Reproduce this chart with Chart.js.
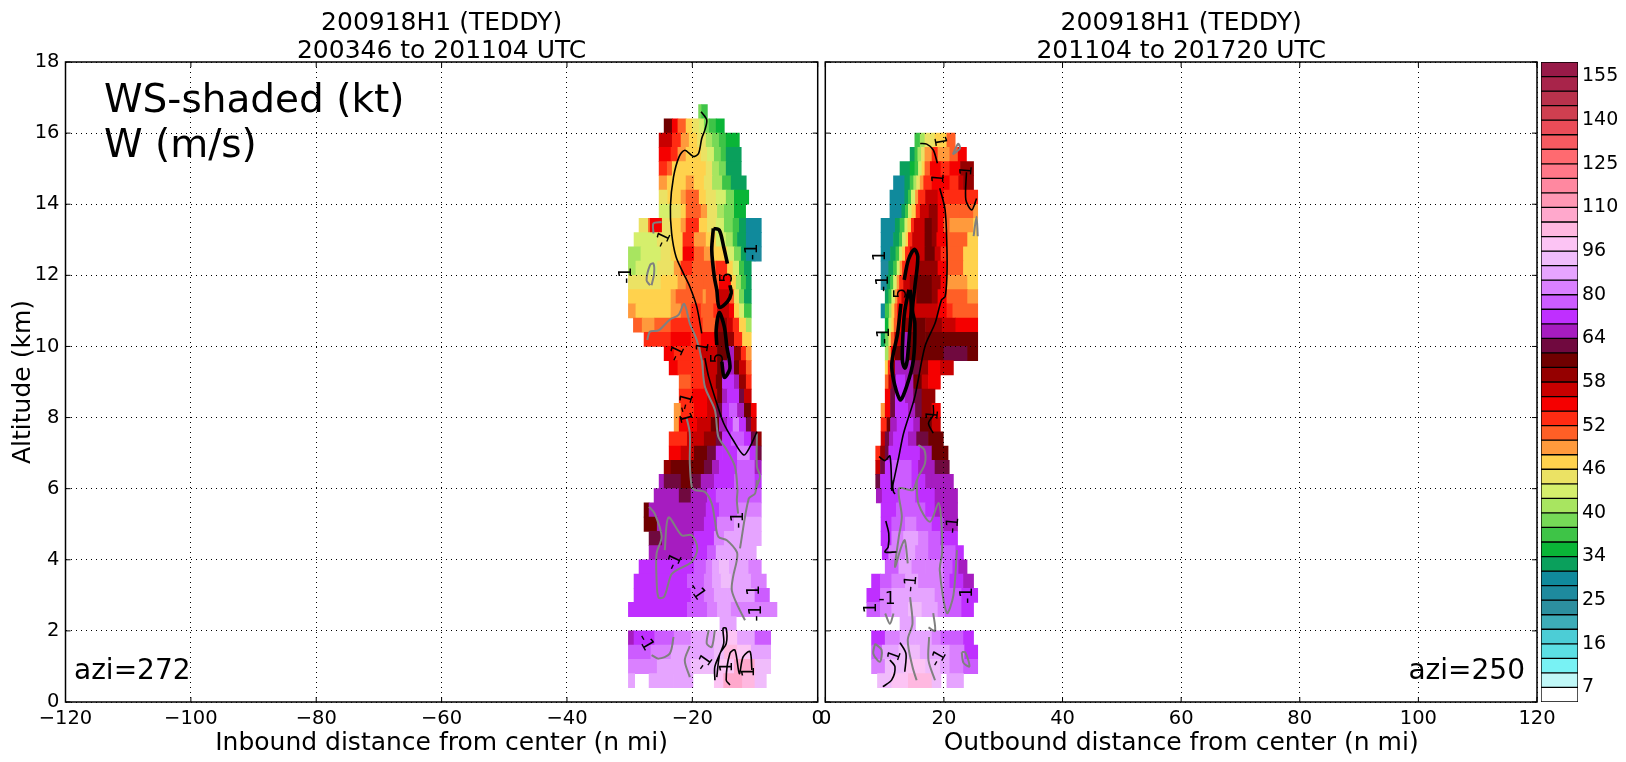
<!DOCTYPE html>
<html lang="en">

<head>
    <meta charset="UTF-8">
    <title>200918H1 (TEDDY)</title>
    <style>
        body {
            margin: 0;
            background: #fff;
        }

        canvas {
            position: absolute;
            top: 0;
        }
    </style>
</head>

<body>
    <canvas id="inbound" width="860" height="762" style="left:0"></canvas>
    <canvas id="outbound" width="846" height="762" style="left:780px"></canvas>
    <canvas id="colorbar" width="85" height="762" style="left:1541px"></canvas>

    <script src="https://cdn.jsdelivr.net/npm/chart.js"></script>
    <script>
        // colour bar
        const levels = [7, 10, 13, 16, 19, 22, 25, 28, 31, 34, 36, 38, 40, 42, 44, 46, 48, 50, 52, 54, 56, 58, 60, 62, 64, 69, 75, 80, 85, 91, 96, 101, 105, 110, 115, 120, 125, 130, 135, 140, 145, 150, 155];
        const levelColors = ['#ffffff', '#c0f8f8', '#78f2f4', '#5cdfe4', '#4ccdd6', '#3dacb8', '#2c8f9f', '#1e8a9e', '#108a9c', '#0aa05c', '#0ab537', '#3ec447', '#76d957', '#a8e560', '#d5ef6c', '#ebe264', '#ffd24d', '#ff9a3c', '#ff5f26', '#ff2b12', '#f50000', '#c80000', '#950000', '#700000', '#70093f', '#a61cc0', '#bf2fff', '#cc5cff', '#da80ff', '#e6a4ff', '#f0bcfb', '#fcc4f4', '#ffb8e0', '#ffa8cc', '#ff98b4', '#ff88a0', '#ff7888', '#ff6a70', '#f65a60', '#ea4c58', '#cf3f50', '#b9324c', '#a8244a', '#981a48'];
        const colorbarTicks = [1, 4, 7, 10, 13, 16, 19, 22, 25, 28, 31, 34, 37, 40, 43];
        const colorbarLabels = ['7', '16', '25', '34', '40', '46', '52', '58', '64', '80', '96', '110', '125', '140', '155'];

        // altitude of each shaded row (km)
        const rowAlt = [16.6, 16.2, 15.8, 15.4, 15.0, 14.6, 14.2, 13.8, 13.4, 13.0, 12.6, 12.2, 11.8, 11.4, 11.0, 10.6, 10.2, 9.8, 9.4, 9.0, 8.6, 8.2, 7.8, 7.4, 7.0, 6.6, 6.2, 5.8, 5.4, 5.0, 4.6, 4.2, 3.8, 3.4, 3.0, 2.6, 2.2, 1.8, 1.4, 1.0, 0.6];

        // wind speed along each row: distance, kt, distance, kt, ... distance
        const inboundWind = [
            [-19, 39, -18.5, 36, -17.6],
            [-24.5, 60, -23.2, 55, -22.3, 51, -21, 47, -20, 45, -18.9, 43, -18.1, 39, -17.3, 36, -16.2, 35, -14.9],
            [-25.3, 56, -23.2, 52, -21.8, 49, -20.5, 47, -19.2, 44, -17.8, 41, -16.8, 38, -15.7, 36, -14.6, 35, -12.5],
            [-25.3, 55, -23.4, 53, -22.3, 49, -21, 47, -18.6, 45, -17.6, 42, -16.5, 39, -15.4, 37, -14.6, 33, -12.2],
            [-25.3, 53, -24, 50, -23.2, 47, -17.8, 44, -16.8, 41, -15.7, 38, -14.6, 33, -12.2],
            [-25.3, 49, -24, 47, -21, 49, -19.7, 47, -18.1, 44, -16.8, 40, -15.2, 37, -13.8, 33, -11.4],
            [-25.3, 45, -23.9, 46, -21.8, 48, -21, 51, -18.9, 47, -17.8, 45, -16.2, 42, -14.6, 38, -13.3, 35, -11],
            [-25.3, 43, -23.4, 45, -21.8, 47, -21, 51, -18.6, 48, -17.6, 45, -16, 41, -14.9, 38, -13.3, 35, -11.5],
            [-28.5, 44, -27, 50, -26.7, 55, -24.8, 45, -23.4, 46, -21.8, 48, -21, 52, -18.9, 47, -17.6, 45, -16.2, 42, -14.9, 39, -13.5, 36, -12.5, 33, -11.4, 29, -9],
            [-29.3, 42, -25.6, 44, -23.4, 47, -21.5, 53, -19.7, 49, -17.8, 46, -16.2, 43, -14.6, 40, -13.5, 37, -12.8, 33, -11.4, 29, -9],
            [-30.2, 40, -28.2, 42, -25, 45, -23.4, 47, -21.5, 55, -19.7, 51, -18.1, 48, -16.8, 46, -14.4, 42, -13.3, 38, -12.2, 33, -11.4, 29, -10, 26, -9],
            [-30.2, 40, -29, 43, -25.6, 45, -22.9, 48, -21.8, 53, -20, 50, -16.2, 53, -14.4, 47, -13.5, 42, -12.5, 37, -11.7, 33, -10.6],
            [-30.2, 44, -25, 46, -22.3, 48, -21, 50, -18.1, 51, -15.7, 54, -13.8, 47, -13, 41, -12.2, 36, -11.4, 33, -10.6],
            [-30.2, 46, -23.4, 48, -22.6, 50, -20.2, 51, -18.3, 48, -17.8, 51, -16, 56, -14.1, 50, -13.3, 44, -12.5, 38, -11.7, 33, -10.6],
            [-30.2, 49, -29, 47, -23.4, 49, -21.8, 51, -20.2, 53, -18.6, 50, -16.6, 53, -16, 57, -14.1, 54, -13.3, 47, -12.5, 42, -11.7, 36, -10.6],
            [-29.4, 50, -28, 49, -26, 51, -23.4, 53, -20.2, 52, -18.3, 51, -16, 58, -14.4, 57, -13.5, 52, -12.5, 46, -11.4, 40, -10.6],
            [-27.7, 52, -23.4, 55, -20.2, 52, -18.6, 54, -16.2, 60, -14.4, 58, -13.3, 52, -12, 47, -10.6],
            [-24.5, 55, -22.9, 53, -18.6, 56, -16, 61, -14.4, 66, -13.3, 58, -12.2, 52, -11.4, 48, -10.6],
            [-23.7, 55, -22.3, 53, -18.1, 56, -16, 60, -15.2, 66, -13.3, 61, -12.5, 56, -11.4, 50, -10.6],
            [-22.1, 51, -20.2, 53, -18.1, 56, -16.2, 61, -15.2, 70, -13.3, 64, -12.5, 58, -11.4, 53, -10.6],
            [-22.1, 52, -20, 54, -17.6, 57, -16, 61, -15.2, 67, -14.4, 72, -12.5, 62, -11.7, 57, -10.6],
            [-22.9, 49, -21.8, 53, -19.7, 55, -17.6, 57, -16.2, 62, -15.2, 70, -14.1, 77, -12.8, 68, -11.7, 60, -10.6, 54, -9.8],
            [-22.9, 49, -22.1, 54, -19.2, 56, -17, 60, -15.7, 68, -14.4, 74, -13.5, 82, -12.5, 72, -11.4, 63, -10.6, 57, -9.8],
            [-23.7, 53, -20.8, 56, -18.1, 59, -16.2, 63, -15.2, 72, -13.8, 78, -11.7, 72, -10.6, 63, -9.8, 58, -9],
            [-23.7, 55, -21.8, 57, -19.7, 60, -17.6, 63, -16.2, 70, -15.2, 74, -12.8, 80, -10.8, 70, -9.8, 62, -9],
            [-24.5, 59, -23.4, 60, -21.3, 61, -18.1, 63, -16.8, 68, -15.7, 73, -12.8, 78, -10, 68, -9],
            [-25.3, 66, -24.5, 63, -21.8, 61, -20.2, 62, -18.6, 66, -16.5, 72, -13.3, 76, -10, 72, -9],
            [-26.1, 66, -22.1, 63, -20.2, 66, -17.6, 72, -16.2, 75, -13.3, 78, -9],
            [-27.7, 60, -26.9, 66, -17.8, 72, -15.7, 78, -12.8, 82, -9],
            [-27.7, 61, -25.6, 66, -18.1, 72, -16, 80, -13.3, 86, -9],
            [-26.9, 62, -24.8, 67, -19.7, 73, -16.5, 80, -14.9, 88, -9],
            [-26.9, 68, -20, 73, -17.6, 78, -16.2, 85, -14.1, 90, -9.8],
            [-28.5, 73, -19.7, 76, -17.8, 82, -16.8, 87, -15.7, 92, -14.1, 88, -11, 84, -9],
            [-29.3, 72, -20.8, 76, -18.1, 82, -16.8, 88, -15.4, 94, -13.8, 87, -10.6, 80, -8.2],
            [-29.3, 72, -20.2, 76, -18.1, 82, -16.5, 88, -14.4, 85, -10, 78, -7.7],
            [-30.2, 72, -20.8, 77, -17.6, 82, -16, 87, -13.8, 82, -6.5],
            [-15.6, 85, -13],
            [-30.2, 68, -29.3, 73, -26, 78, -22.9, 82, -20.2, 88, -16.5, 92, -14.9, 98, -12.8, 88, -10, 76, -7.5],
            [-30.2, 78, -26.6, 82, -23.4, 86, -20.2, 89, -16.5, 95, -14.9, 103, -12.8, 96, -10.6, 88, -7.5],
            [-30.2, 84, -25.6, 88, -20.2, 92, -16, 100, -13.3, 106, -10, 94, -7.5],
            [-30.2, 86, -29.2, null, -26.9, 88, -23, 90, -19.9, null, -16.5, 100, -15, 108, -12, 104, -10, 92, -8.2]
        ];

        const outboundWind = [
            [],
            [],
            [15.1, 37, 16, 41, 16.8, 44, 18.5, 47, 20.5, 51, 21.9],
            [14.3, 33, 15.1, 36, 15.6, 41, 16.2, 45, 16.8, 49, 18, 52, 19, 49, 21, 51, 22.4, 54, 23.8],
            [12.6, 31, 14.3, 34, 15.1, 37, 15.7, 42, 16.3, 47, 16.8, 50, 17.7, 54, 19.5, 52, 21, 54, 22.8, 58, 25],
            [11.5, 30, 13.4, 33, 14.3, 36, 14.9, 40, 15.4, 45, 16, 49, 16.6, 53, 18, 55, 21, 53, 22.5, 56, 23.3, 58, 25],
            [10.9, 29, 13.4, 33, 14, 37, 14.5, 43, 15.2, 48, 15.7, 52, 16.9, 57, 19, 55, 20, 52, 21, 53, 25.7],
            [10.9, 29, 12.9, 33, 13.5, 37, 14, 42, 14.6, 47, 15.3, 52, 16, 56, 17.5, 59, 19, 54, 20.2, 50, 22.7, 51, 25, 48, 25.7],
            [9.4, 29, 11.8, 33, 12.6, 36, 13.4, 42, 13.9, 47, 14.5, 52, 15, 56, 16.8, 60, 18, 58, 19, 54, 20, 51, 21, 49, 25, 47, 25.7],
            [9.4, 28, 11.5, 33, 12.5, 36, 13, 42, 13.6, 47, 14, 52, 14.7, 56, 16.8, 60, 18, 58, 18.8, 55, 20.5, 50, 24, 47, 25.7],
            [9.4, 28, 11, 33, 11.9, 36, 12.5, 42, 13, 47, 13.5, 52, 14.3, 56, 16.8, 60, 18.5, 57, 19.5, 53, 20.5, 50, 23.3, 46, 25.7],
            [9.4, 27, 10.7, 33, 11.5, 37, 12.1, 43, 12.6, 48, 13, 53, 13.8, 56, 15.4, 58, 18, 59, 19, 55, 20.5, 50, 23.3, 46, 25.7],
            [9.4, 27, 10.4, 33, 11, 37, 11.5, 43, 12.1, 48, 12.5, 53, 13.2, 56, 14.3, 58, 15.4, 61, 18, 58, 19.5, 54, 20.5, 49, 24, 46, 25.7],
            [10.1, 33, 10.7, 37, 11.2, 43, 11.8, 48, 12.2, 53, 12.9, 56, 15.4, 61, 18, 59, 19, 55, 20.5, 51, 24, 49, 25.7],
            [9.4, 30, 10.1, 36, 10.8, 41, 11.2, 46, 11.7, 50, 12.2, 54, 13.5, 57, 19, 55, 20.5, 53, 21.5, 51, 25.7],
            [10.1, 35, 10.7, 42, 11.2, 46, 11.6, 51, 12.2, 55, 13.2, 59, 15.2, 61, 16.9, 59, 19.7, 56, 22, 54, 25.7],
            [9.4, 33, 10.1, 38, 10.7, 45, 11.1, 50, 11.7, 56, 12.9, 64, 14.3, 60, 16.9, 61, 19.7, 60, 25.7],
            [10.1, 41, 10.7, 48, 11.1, 54, 11.8, 60, 12.9, 66, 13.8, 61, 17.7, 60, 20, 63, 24, 60, 25.7],
            [10.1, 46, 10.6, 52, 11.1, 58, 11.8, 64, 12.6, 68, 14.6, 63, 16, 58, 17.4, 55, 19.4, 57, 21.6],
            [10.1, 50, 10.7, 56, 11.2, 62, 11.9, 72, 13.5, 66, 14.9, 60, 16.3, 57, 17.4, 55, 19.4],
            [10.1, 54, 11, 62, 11.8, 72, 13.5, 68, 14.9, 62, 16.3, 58, 18.5],
            [9.4, 49, 10.1, 55, 11, 62, 11.8, 72, 14, 68, 15.2, 63, 16.3, 58, 18, 55, 19.4],
            [9.4, 52, 10.4, 60, 11, 68, 12.1, 74, 13.8, 70, 14.9, 65, 16, 60, 18, 57, 19.4],
            [9.4, 56, 10.1, 62, 10.8, 68, 11.5, 74, 14, 68, 15.4, 63, 17.4, 60, 19.9],
            [8.5, 53, 9.3, 58, 10.1, 63, 10.7, 70, 11.5, 74, 14.3, 70, 16, 65, 18, 61, 20.7],
            [8.5, 56, 9.3, 62, 10.1, 69, 11.2, 75, 14.6, 71, 15.7, 66, 18.5, 63, 20.9],
            [8.5, 62, 9.3, 70, 11.2, 76, 14.6, 72, 16.9, 66, 18, 64, 20, 66, 21.6],
            [8.6, 66, 9.6, 72, 12.4, 76, 15.2, 72, 18.5, 67, 22.3],
            [9.4, 72, 12, 78, 14.3, 75, 16.9, 72, 18.5, 68, 20, 66, 22.3],
            [9.4, 72, 11.2, 78, 13.5, 83, 15.4, 78, 18, 73, 20, 68, 22.3],
            [9.4, 73, 11.2, 80, 13.2, 85, 15.7, 80, 17.4, 76, 19.4, 73, 21, 70, 22.3],
            [9.6, 73, 10.7, 80, 13.5, 88, 15.2, 82, 17.4, 78, 19.7, 75, 22, 72, 23.3],
            [10.1, 78, 12.4, 86, 14.6, 84, 16.9, 80, 19.9, 76, 21.5, 73, 22.5, 68, 23.9],
            [7.8, 72, 9.3, 78, 11.2, 84, 13.5, 90, 15.7, 84, 18, 80, 20, 78, 21, 74, 23.3, 68, 25],
            [7, 74, 9.3, 80, 11.2, 86, 14, 90, 16.3, 86, 18.5, 82, 20, 76, 23, 71, 25.7],
            [7, 76, 9.3, 82, 11.2, 88, 14, 92, 16.3, 88, 19, 84, 20.2, 78, 23, 72, 25],
            [12.6, 88, 15.2],
            [7.8, 73, 10.1, 82, 12.6, 90, 15.2, 88, 18, 84, 19.5, 78, 21, 75, 23.3, 72, 25],
            [7.8, 78, 9.6, 85, 12.4, 92, 16, 90, 19.4, 85, 21, 80, 23.5, 74, 25.7],
            [7.8, 84, 10.1, 92, 13.5, 98, 16.9, 92, 19.4, 88, 21, 84, 23.3, 78, 25.7],
            [8.8, 92, 11.2, 100, 14, 103, 18, 92, 19.5, null, 20.5, 86, 23.3]
        ];

        // vertical velocity contours: [distance, altitude]
        const inboundThin = [
            [[-18.6, 16.6], [-17.7, 16.37], [-18, 16.09], [-18.5, 15.85], [-19, 15.43], [-19.8, 15.34], [-21.2, 15.52], [-22.1, 15.34], [-23, 14.77], [-23.5, 13.93], [-23.3, 13.18], [-22.6, 12.52], [-21.4, 12.05], [-20.4, 11.68], [-19.3, 11.12], [-18.5, 10.37]],
            [[-18, 9.67], [-17.4, 9.15], [-16.1, 8.4], [-15, 7.84], [-13.5, 7.37], [-11.8, 6.95], [-10.8, 7.18], [-9.7, 7.6]],
            [[-16.4, 0.61], [-16.4, 1.0], [-15, 1.64], [-15.1, 2.07], [-14.6, 2.07], [-14.6, 1.64], [-15.6, 1.36], [-16.1, 0.7]],
            [[-14, 0.48], [-14.6, 0.62], [-14, 1.37], [-13.2, 1.46], [-12.5, 0.8], [-11.9, 1.27], [-10.8, 1.42], [-10.5, 0.9]]
        ];
        const inboundThick = [
            [[-16.65, 13.32], [-15.7, 13.27], [-15, 12.8], [-14.4, 12.33]],
            [[-14, 11.72], [-13.8, 11.5], [-14.4, 11.26], [-15.7, 11.1], [-16.1, 11.59], [-16.5, 11.96], [-16.9, 12.71], [-16.65, 13.32]],
            [[-16.1, 10.04], [-16.2, 10.46], [-15.7, 10.95], [-14.9, 10.56], [-14.5, 10], [-14, 9.39], [-14.9, 9.13], [-15.3, 9.57]]
        ];
        const inboundGray = [
            [[-27.2, 10.18], [-26.75, 10.42], [-25.4, 10.45], [-23.6, 10.75], [-22.2, 10.89], [-21.3, 11.2], [-20.4, 10.65], [-19.3, 10.18], [-18.5, 9.62], [-18, 8.87], [-16.4, 8.21], [-15.85, 7.46], [-14.5, 7.09], [-13.2, 6.62], [-12.8, 5.96], [-12.9, 5.68], [-12.7, 5.3]],
            [[-20.9, 7.98], [-20.4, 7.56], [-20.4, 6.71], [-20.1, 6.06], [-19.6, 5.96], [-18, 5.91], [-16.9, 5.58], [-16.4, 5.11], [-15.85, 4.65], [-14.5, 4.55], [-12.9, 4.22], [-12.9, 3.99], [-13.5, 3.52], [-13.7, 3.14], [-12.7, 2.68], [-11.6, 2.3]],
            [[-26.9, 5.49], [-26, 5.3], [-24.9, 4.65], [-25.7, 4.18], [-25.7, 3.43], [-25.4, 2.94], [-24.5, 2.96], [-23.4, 3.57], [-22.5, 3.71], [-20.1, 3.94], [-19.2, 4.32], [-20.1, 4.69], [-21.7, 4.69], [-23.8, 5.19], [-24.4, 4.27]],
            [[-9.7, 6.24], [-10, 5.86], [-11, 5.72], [-12.4, 4.32]],
            [[-9.7, 7.55], [-9.7, 6.62], [-9.2, 6.34], [-10, 5.96]],
            [[-26.5, 1.32], [-25.4, 1.22], [-23.6, 1.36], [-23, 1.83]],
            [[-20.4, 0.7], [-21.2, 1.17], [-20.4, 1.57]],
            [[-17.4, 2.02], [-17.7, 1.64], [-16.9, 1.55], [-16.4, 2.02]],
            [[-26.75, 11.72], [-27.3, 11.86], [-26.75, 12.29], [-26.2, 12.33], [-26.1, 12.05], [-26.5, 11.72]],
            [[-26.2, 13.18], [-26.2, 13.46], [-24.9, 13.5]]
        ];
        const outboundThin = [
            [[16, 15.71], [17.1, 15.69], [18.2, 15.53], [18.9, 15.15]],
            [[19.3, 14.45], [20.2, 13.84], [20.5, 12.8], [20.5, 11.96], [20.2, 11.4], [19.6, 11.31], [18.5, 10.65], [16.8, 10], [15.1, 8.59], [13.2, 7.56], [12.4, 6.9], [11.2, 5.96]],
            [[9.05, 6.9], [10.06, 6.79], [10.9, 6.92], [11.2, 5.96], [11.2, 6.24], [11.5, 5.91], [11.75, 5.85]],
            [[23.8, 14.9], [23.7, 14.12], [24.7, 13.84], [25.5, 14.16]],
            [[18.2, 8.35], [18.2, 8.07], [17.4, 7.84], [18.2, 7.56]],
            [[10.2, 5.09], [10.7, 4.74], [10.6, 4.36], [10.06, 4.22], [12, 4.22]],
            [[12.6, 1.67], [13.6, 1.36], [13.4, 0.85]],
            [[10.9, 1.18], [11.75, 0.99], [11.2, 0.62], [9.7, 0.43]]
        ];
        const outboundThick = [
            [[13.3, 11.87], [14, 12.43], [15, 12.73], [15.6, 12.52], [15.1, 11.68], [14.7, 11.02], [15.1, 10.65], [14.85, 9.62], [13.7, 8.87], [12.6, 8.5], [11.2, 9.43], [12.2, 10.37], [12.76, 11.2]],
            [[14.1, 11.6], [13.4, 11], [13.1, 10.37], [13, 9.6], [13.4, 9.39], [13.8, 9.6], [14.2, 10.37], [14.5, 11.1], [14.3, 11.6]]
        ];
        const outboundGray = [
            [[15.7, 7.23], [16.7, 7.09], [16.8, 6.71], [15.7, 6.34], [14.8, 5.96], [14.3, 5.96], [12.4, 6], [12.9, 5.21], [12.4, 4.65], [11.75, 3.8], [12.8, 4.36], [13.4, 4.55], [13.9, 3.9]],
            [[15.4, 6.24], [15.7, 5.58], [17.65, 5.07], [19.1, 5.6], [19.6, 5], [19.7, 4.2], [19.3, 3.7], [20.5, 2.5], [21.6, 3], [22.2, 4.27]],
            [[14.3, 2.95], [14.7, 2.2], [13.9, 1.74], [14.7, 0.99], [15.4, 0.61]],
            [[17.5, 1.83], [17.4, 1.17], [18.5, 0.61]],
            [[10.1, 2.49], [10.9, 2.2], [11.5, 2.49]],
            [[8.4, 1.64], [9.5, 1.46], [9.2, 1.13], [8.1, 1.36], [8.4, 1.64]],
            [[17.4, 2.1], [18.5, 2], [18.2, 2.5]],
            [[21.5, 15.4], [22.4, 15.7], [22.7, 15.57], [21.5, 15.4]],
            [[25, 13.1], [25.5, 13.65], [25.7, 13.1]],
            [[23, 1.4], [23.6, 1.4], [24.3, 1], [23.3, 1.1], [23, 1.4]]
        ];

        // contour labels: distance, altitude, text, rotation
        const inboundLabels = [
            [-24.6, 13, '-1', -65], [-30.5, 12, '-1', -90], [-10.4, 12.66, '-1', -90], [-14.4, 11.94, '5', -90],
            [-15.8, 9.67, '5', -90], [-22.4, 9.8, '-1', -65], [-18.2, 9.98, '1', -80], [-20.9, 8.45, '-1', -75],
            [-21.4, 8.07, '-1', 75], [-12.7, 5.12, '-1', -90], [-22.8, 3.94, '-1', -65], [-19.3, 3.1, '-1', 55],
            [-27.5, 1.67, '-1', 60], [-18, 1.1, '-1', -55], [-14.3, 0.99, '1', -90], [-10.8, 0.85, '1', -90],
            [-10, 3.14, '1', -90], [-9.7, 2.5, '-1', -90]
        ];
        const outboundLabels = [
            [19.2, 15.76, '1', 80], [19.2, 14.73, '1', -85], [9.4, 12.55, '1', -90], [9.8, 11.77, '-1', -90],
            [12.8, 11.49, '5', -90], [23.9, 14.94, '1', -85], [10, 10.3, '-1', -90], [18.2, 8.07, '1', -85],
            [21.6, 4.97, '-1', -85], [24, 3, '-1', -90], [14.5, 3.33, '-1', -85], [10.4, 2.88, '-1', 0],
            [7.8, 2.65, '1', -90], [11.8, 1.3, '1', -70], [19.1, 1.22, '-1', -60]
        ];

        const fontName = '"DejaVu Sans"';

        function colorFor(kt) {
            let i = 0;
            while (i < levels.length && kt >= levels[i]) i++;
            return levelColors[i];
        }

        // turn the rows into floating bars
        function windBars(rows) {
            const bars = [];
            rows.forEach((runs, r) => {
                for (let j = 1; j < runs.length; j += 2) {
                    if (runs[j] === null) continue;
                    bars.push({ x: [runs[j - 1], runs[j + 1]], y: rowAlt[r], kt: runs[j] });
                }
            });
            return bars;
        }

        function contourSets(lines, color, width, order) {
            return lines.map(line => ({
                type: 'scatter',
                data: line.map(p => ({ x: p[0], y: p[1] })),
                showLine: true,
                borderColor: color,
                borderWidth: width,
                tension: 0.3,
                pointRadius: 0,
                order: order
            }));
        }

        // frame, inward ticks and contour labels
        const panelExtras = {
            id: 'panelExtras',
            afterDatasetsDraw(chart, args, opts) {
                const { ctx, scales: { x, y } } = chart;
                ctx.save();
                ctx.fillStyle = '#000';
                ctx.textAlign = 'center';
                ctx.textBaseline = 'middle';
                ctx.font = '17px ' + fontName;
                opts.labels.forEach(l => {
                    ctx.save();
                    ctx.translate(x.getPixelForValue(l[0]), y.getPixelForValue(l[1]));
                    ctx.rotate(l[3] * Math.PI / 180);
                    ctx.fillText(l[2], 0, 0);
                    ctx.restore();
                });
                ctx.restore();
            },
            afterDraw(chart, args, opts) {
                const { ctx, chartArea: a, scales: { x, y } } = chart;
                ctx.save();
                ctx.strokeStyle = '#000';
                ctx.lineWidth = 1.5;
                ctx.strokeRect(a.left, a.top, a.right - a.left, a.bottom - a.top);
                ctx.lineWidth = 1;
                ctx.beginPath();
                x.ticks.forEach((t, i) => {
                    const px = x.getPixelForTick(i);
                    ctx.moveTo(px, a.top); ctx.lineTo(px, a.top + 5);
                    ctx.moveTo(px, a.bottom); ctx.lineTo(px, a.bottom - 5);
                });
                y.ticks.forEach((t, i) => {
                    const py = y.getPixelForTick(i);
                    ctx.moveTo(a.left, py); ctx.lineTo(a.left + 5, py);
                    ctx.moveTo(a.right, py); ctx.lineTo(a.right - 5, py);
                });
                ctx.stroke();
                ctx.fillStyle = '#000';
                opts.notes.forEach(n => {
                    ctx.font = n.size + 'px ' + fontName;
                    ctx.textAlign = n.align;
                    ctx.fillText(n.text, n.x, n.y);
                });
                ctx.restore();
            }
        };

        function makePanel(id, cfg) {
            const bars = windBars(cfg.rows);
            new Chart(document.getElementById(id), {
                type: 'scatter',
                data: {
                    datasets: [{
                        type: 'bar',
                        indexAxis: 'y',
                        data: bars,
                        backgroundColor: bars.map(b => colorFor(b.kt)),
                        grouped: false,
                        barPercentage: 1,
                        categoryPercentage: 1,
                        order: 10
                    }].concat(
                        contourSets(cfg.gray, '#808080', 2, 3),
                        contourSets(cfg.thin, '#000', 1.6, 2),
                        contourSets(cfg.thick, '#000', 3.6, 1)
                    )
                },
                plugins: [panelExtras],
                options: {
                    responsive: false,
                    animation: false,
                    events: [],
                    layout: { padding: cfg.padding },
                    plugins: {
                        legend: { display: false },
                        tooltip: { enabled: false },
                        title: {
                            display: true,
                            fullSize: false,
                            text: cfg.title,
                            color: '#000',
                            font: { family: fontName, size: 25, weight: 'normal', lineHeight: 1.12 },
                            padding: { top: 9, bottom: -3 }
                        },
                        panelExtras: { labels: cfg.labels, notes: cfg.notes }
                    },
                    scales: {
                        x: {
                            type: 'linear',
                            min: cfg.xMin,
                            max: cfg.xMax,
                            offset: false,
                            afterFit: s => { s.height = 60; },
                            grid: { color: '#000', lineWidth: 1, drawTicks: false, offset: false, z: 1 },
                            border: { display: false, dash: [1, 4] },
                            ticks: {
                                stepSize: 20,
                                color: '#000',
                                padding: 5,
                                maxRotation: 0,
                                font: { family: fontName, size: 19.5 },
                                callback: v => String(v).replace('-', '\u2212')
                            },
                            title: {
                                display: true,
                                text: cfg.xTitle,
                                color: '#000',
                                font: { family: fontName, size: 25 },
                                padding: { top: 0, bottom: 4 }
                            }
                        },
                        y: {
                            type: 'linear',
                            min: 0,
                            max: 18,
                            offset: false,
                            afterFit: s => { s.width = cfg.axisWidth; },
                            grid: { color: '#000', lineWidth: 1, drawTicks: false, offset: false, z: 1 },
                            border: { display: false, dash: [1, 4] },
                            ticks: {
                                stepSize: 2,
                                color: cfg.yLabels ? '#000' : 'transparent',
                                padding: 6,
                                font: { family: fontName, size: 19.5 }
                            },
                            title: {
                                display: cfg.yLabels,
                                text: 'Altitude (km)',
                                color: '#000',
                                font: { family: fontName, size: 25 },
                                padding: { top: 8, bottom: 0 }
                            }
                        }
                    }
                }
            });
        }

        makePanel('inbound', {
            rows: inboundWind, thin: inboundThin, thick: inboundThick, gray: inboundGray, labels: inboundLabels,
            title: ['200918H1 (TEDDY)', '200346 to 201104 UTC'],
            xTitle: 'Inbound distance from center (n mi)',
            xMin: -120, xMax: 0, axisWidth: 65.5, yLabels: true,
            padding: { left: 0, right: 42.3, top: 0, bottom: 0 },
            notes: [
                { text: 'WS-shaded (kt)', x: 104, y: 112, size: 39, align: 'left' },
                { text: 'W (m/s)', x: 104, y: 157, size: 39, align: 'left' },
                { text: 'azi=272', x: 74, y: 679, size: 28, align: 'left' }
            ]
        });

        makePanel('outbound', {
            rows: outboundWind, thin: outboundThin, thick: outboundThick, gray: outboundGray, labels: outboundLabels,
            title: ['200918H1 (TEDDY)', '201104 to 201720 UTC'],
            xTitle: 'Outbound distance from center (n mi)',
            xMin: 0, xMax: 120, axisWidth: 45.3, yLabels: false,
            padding: { left: 0, right: 89, top: 0, bottom: 0 },
            notes: [
                { text: 'azi=250', x: 745, y: 679, size: 28, align: 'right' }
            ]
        });

        // colour bar: one floating bar per level band
        new Chart(document.getElementById('colorbar'), {
            type: 'bar',
            data: {
                labels: [''],
                datasets: [{
                    data: levelColors.map((c, i) => ({ x: '', y: [i, i + 1] })),
                    backgroundColor: levelColors,
                    borderColor: '#000',
                    borderWidth: 1,
                    borderSkipped: false,
                    grouped: false,
                    barPercentage: 1,
                    categoryPercentage: 1
                }]
            },
            options: {
                responsive: false,
                animation: false,
                events: [],
                layout: { padding: { top: 62, bottom: 60, left: 0, right: 0 } },
                plugins: { legend: { display: false }, tooltip: { enabled: false } },
                scales: {
                    x: { display: false },
                    y: {
                        position: 'right',
                        min: 0,
                        max: levelColors.length,
                        afterFit: s => { s.width = 48; },
                        afterBuildTicks: s => { s.ticks = colorbarTicks.map(v => ({ value: v })); },
                        grid: { display: false, drawTicks: false },
                        border: { display: false },
                        ticks: {
                            autoSkip: false,
                            color: '#000',
                            padding: 4,
                            font: { family: fontName, size: 19 },
                            callback: v => colorbarLabels[colorbarTicks.indexOf(v)]
                        }
                    }
                }
            }
        });
    </script>
</body>

</html>
